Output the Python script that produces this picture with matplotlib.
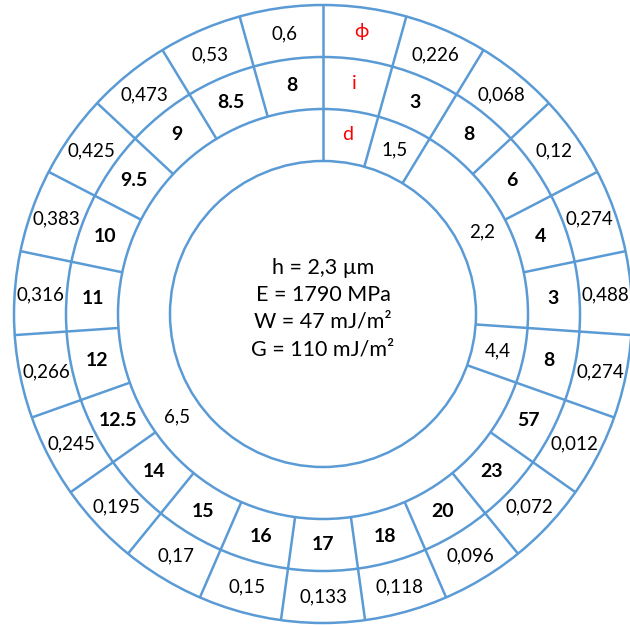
import numpy as np
import matplotlib.pyplot as plt
from matplotlib.patches import Circle

plt.rcParams['font.family'] = ['Lato', 'DejaVu Sans']

# outer ring: phi, middle ring: i (bold), inner ring: d (spans several cells)
phi_vals = ['0,226', '0,068', '0,12', '0,274', '0,488', '0,274', '0,012', '0,072',
            '0,096', '0,118', '0,133', '0,15', '0,17', '0,195', '0,245', '0,266',
            '0,316', '0,383', '0,425', '0,473', '0,53', '0,6']
i_vals = ['3', '8', '6', '4', '3', '8', '57', '23', '20', '18', '17', '16', '15',
          '14', '12.5', '12', '11', '10', '9.5', '9', '8.5', '8']
d_vals = ['1,5', '2,2', '4,4', '6,5']
d_span = [1, 4, 1, 16]
header = ['ϕ', 'i', 'd']
center_lines = ['h = 2,3 µm', 'E = 1790 MPa', 'W = 47 mJ/m²', 'G = 110 mJ/m²']

BLUE = '#5B9BD5'
R_IN, R_D, R_I, R_OUT = 153, 205, 257, 309
n_seg = len(phi_vals) + 1
step = 360.0 / n_seg


def pt(r, ang):
    # angle in degrees, clockwise from the top
    a = np.radians(ang)
    return r * np.sin(a), r * np.cos(a)


fig = plt.figure(figsize=(6.3, 6.25), dpi=100)
ax = fig.add_axes([0, 0, 1, 1])
ax.set_xlim(-323, 307)
ax.set_ylim(-311, 314)
ax.set_aspect('equal')
ax.axis('off')

for r in (R_IN, R_D, R_I, R_OUT):
    ax.add_patch(Circle((0, 0), r, fill=False, ec=BLUE, lw=1.8))

# radial dividers in outer and middle rings
for k in range(n_seg):
    x0, y0 = pt(R_D, k * step)
    x1, y1 = pt(R_OUT, k * step)
    ax.plot([x0, x1], [y0, y1], color=BLUE, lw=1.8, solid_capstyle='butt')

# dividers in the d ring
bounds = np.cumsum([1] + d_span)
for b in [0] + list(bounds[:-1]):
    x0, y0 = pt(R_IN, b * step)
    x1, y1 = pt(R_D, b * step)
    ax.plot([x0, x1], [y0, y1], color=BLUE, lw=1.8, solid_capstyle='butt')

# header cell
mid = 0.5 * step
for lab, r in zip(header, [(R_I + R_OUT) / 2, (R_D + R_I) / 2, (R_IN + R_D) / 2]):
    x, y = pt(r + 2, mid)
    ax.text(x, y, lab, color='red', fontsize=14, ha='center', va='center')

for k, (p, iv) in enumerate(zip(phi_vals, i_vals)):
    ang = (k + 1.5) * step
    x, y = pt((R_I + R_OUT) / 2, ang)
    ax.text(x, y, p, fontsize=13.5, ha='center', va='center')
    x, y = pt((R_D + R_I) / 2, ang)
    ax.text(x, y, iv, fontsize=14, fontweight='bold', ha='center', va='center')

for lab, s, b in zip(d_vals, d_span, bounds[:-1]):
    ang = (b + 0.5 * s) * step
    x, y = pt((R_IN + R_D) / 2, ang)
    ax.text(x, y, lab, fontsize=13.5, ha='center', va='center')

for j, line in enumerate(center_lines):
    ax.text(0, 46 - 27 * j, line, fontsize=15.5, ha='center', va='center')

fig.savefig('out.png', dpi=100)
